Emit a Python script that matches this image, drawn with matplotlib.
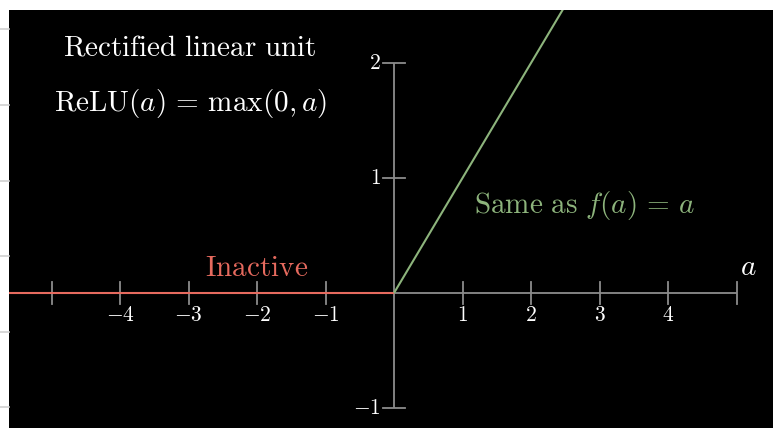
import numpy as np
import matplotlib
matplotlib.use("Agg")
import matplotlib.pyplot as plt
from matplotlib.lines import Line2D

plt.rcParams["mathtext.fontset"] = "cm"

# Axis layout of the number plane
x_range = [-5, 5]
y_range = [-1, 2]
x_ticks = [-5, -4, -3, -2, -1, 1, 2, 3, 4, 5]
x_tick_labels = {-4: r"$-4$", -3: r"$-3$", -2: r"$-2$", -1: r"$-1$",
                 1: r"$1$", 2: r"$2$", 3: r"$3$", 4: r"$4$"}
y_ticks = [-1, 1, 2]
y_tick_labels = {-1: r"$-1$", 1: r"$1$", 2: r"$2$"}

# Input values for the two pieces of ReLU
a_inactive = np.array([-5.7, 0.0])
a_active = np.array([0.0, 2.6])

W, H = 773, 428
fig = plt.figure(figsize=(W / 100, H / 100), dpi=100, facecolor="white")

# Notebook-style gutter lines on the left margin
for yp in [29, 105, 181, 256, 332, 407]:
    fig.add_artist(Line2D([0, 9 / W], [1 - yp / H, 1 - yp / H],
                          transform=fig.transFigure, color="#cfcfcf", lw=1.2))

ax = fig.add_axes([9 / W, 0, (W - 9) / W, (H - 10) / H])
ax.set_facecolor("black")
for s in ax.spines.values():
    s.set_visible(False)
ax.set_xticks([])
ax.set_yticks([])

ox, oy = 394, 293            # origin in pixels
ux, uy = 68.5, 115.0         # pixels per unit
ax.set_xlim((9 - ox) / ux, (W - ox) / ux)
ax.set_ylim((oy - H) / uy, (oy - 10) / uy)

axis_col = "#8c8c8c"
lw_axis = 1.3
tx = 11 / ux
ty = 11 / uy

# x axis
ax.plot(x_range, [0, 0], color=axis_col, lw=lw_axis, solid_capstyle="butt", zorder=2)
for t in x_ticks:
    ax.plot([t, t], [-ty, ty], color=axis_col, lw=lw_axis, zorder=2)
for t, lab in x_tick_labels.items():
    ax.text(t, -22 / uy, lab, color="white", fontsize=15.5,
            ha="center", va="center", zorder=3)

# y axis
ax.plot([0, 0], y_range, color=axis_col, lw=lw_axis, solid_capstyle="butt", zorder=2)
for t in y_ticks:
    ax.plot([-tx, tx], [t, t], color=axis_col, lw=lw_axis, zorder=2)
for t, lab in y_tick_labels.items():
    ax.text(-13 / ux, t, lab, color="white", fontsize=15.5,
            ha="right", va="center", zorder=3)

# ReLU pieces
red = "#e66a5e"
green = "#8db47c"
ax.plot(a_inactive, np.maximum(0, a_inactive), color=red, lw=1.5, zorder=4,
        solid_capstyle="butt")
ax.plot(a_active, np.maximum(0, a_active), color=green, lw=1.5, zorder=4,
        solid_capstyle="butt")

# Labels
fs = 21
ax.text((748 - ox) / ux, (oy - 267) / uy, r"$a$", color="white", fontsize=fs,
        ha="center", va="center")
ax.text((257 - ox) / ux, (oy - 268) / uy, r"$\mathrm{Inactive}$", color=red,
        fontsize=fs, ha="center", va="center")
ax.text((585 - ox) / ux, (oy - 205) / uy, r"$\mathrm{Same\ as}\ f(a)\,=\,a$",
        color=green, fontsize=fs, ha="center", va="center")
ax.text((190 - ox) / ux, (oy - 48) / uy, r"$\mathrm{Rectified\ linear\ unit}$",
        color="white", fontsize=fs, ha="center", va="center")
ax.text((191 - ox) / ux, (oy - 104) / uy, r"$\mathrm{ReLU}(a)\,=\,\max(0, a)$",
        color="white", fontsize=fs, ha="center", va="center")

fig.savefig("out.png", dpi=100, facecolor="white")
